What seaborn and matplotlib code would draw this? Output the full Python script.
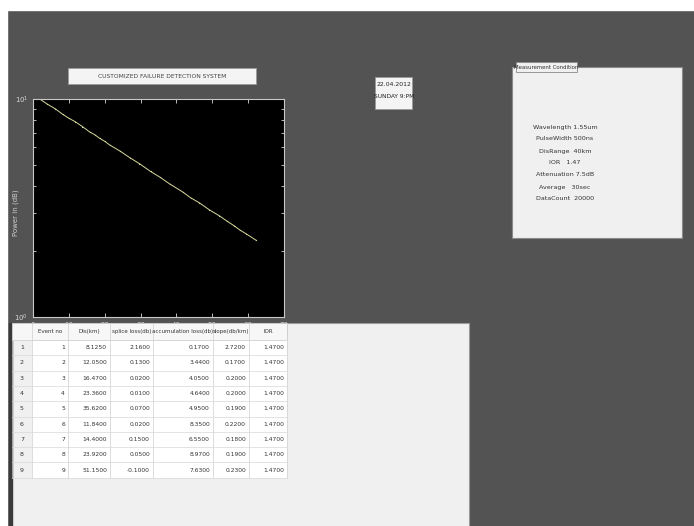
import matplotlib
matplotlib.use("Agg")
import matplotlib.pyplot as plt
from matplotlib.patches import Rectangle
import seaborn as sns
import pandas as pd

# OTDR trace
dist_km = [1.9, 4.0, 6.2, 8.3, 10.0, 11.7, 13.8, 15.8, 17.2, 18.6, 20.0, 21.4,
           24.2, 27.0, 29.7, 32.8, 35.5, 38.1, 41.7, 44.0, 46.4, 49.2, 52.0,
           54.0, 56.1, 57.8, 59.4, 62.2]
power = [10.0, 9.47, 9.02, 8.50, 8.16, 7.88, 7.47, 7.06, 6.86, 6.60, 6.40, 6.15,
         5.78, 5.38, 5.05, 4.65, 4.37, 4.08, 3.75, 3.52, 3.34, 3.10, 2.91,
         2.76, 2.62, 2.50, 2.41, 2.25]

# event table
col_names = ["Event no", "Dis(km)", "splice loss(db)", "accumulation loss(db)",
             "slope(db/km)", "IOR"]
event_no = [1, 2, 3, 4, 5, 6, 7, 8, 9]
dis = [8.1250, 12.0500, 16.4700, 23.3600, 35.6200, 11.8400, 14.4000, 23.9200, 51.1500]
splice = [2.1600, 0.1300, 0.0200, 0.0100, 0.0700, 0.0200, 0.1500, 0.0500, -0.1000]
accum = [0.1700, 3.4400, 4.0500, 4.6400, 4.9500, 8.3500, 6.5500, 8.9700, 7.6300]
slope = [2.7200, 0.1700, 0.2000, 0.2000, 0.1900, 0.2200, 0.1800, 0.1900, 0.2300]
ior = [1.4700] * 9

# measurement panel
meas_lines = ["Wavelength 1.55um", "PulseWidth 500ns", "DisRange  40km", "IOR   1.47",
              "Attenuation 7.5dB", "Average   30sec", "DataCount  20000"]

W, H = 694, 526
GRAY = "#535353"
PANEL = "#f0f0f0"

fig = plt.figure(figsize=(W / 100, H / 100), dpi=100, facecolor=GRAY)
plt.rcParams['font.family'] = ['DejaVu Sans']


def fx(x):
    return x / W


def fy(y):
    return 1 - y / H


# chrome behind the plot
bg = fig.add_axes([0, 0, 1, 1], zorder=0)
bg.set_xlim(0, W)
bg.set_ylim(H, 0)
bg.axis("off")
bg.add_patch(Rectangle((0, 0), W, 10, color="white"))
bg.add_patch(Rectangle((0, 0), 7, H, color="white"))

# title box
bg.add_patch(Rectangle((68, 68), 188, 16, facecolor="#f4f4f4", edgecolor="#9a9a9a", lw=0.6))
bg.text(162, 76, "CUSTOMIZED FAILURE DETECTION SYSTEM", ha="center", va="center",
        fontsize=4.3, color="#444444")

# date box
bg.add_patch(Rectangle((375, 77), 37, 32, facecolor="#f4f4f4", edgecolor="#9a9a9a", lw=0.6))
bg.text(394, 85, "22.04.2012", ha="center", va="center", fontsize=4.4, color="#222222")
bg.text(394, 96, "SUNDAY 9:PM", ha="center", va="center", fontsize=4.2, color="#222222")

# measurement condition panel
bg.add_patch(Rectangle((512, 67), 170, 171, facecolor=PANEL, edgecolor="#8a8a8a", lw=0.8))
bg.add_patch(Rectangle((516, 62), 61, 10, facecolor=PANEL, edgecolor="#8a8a8a", lw=0.6))
bg.text(546.5, 67.5, "Measurement Condition", ha="center", va="center", fontsize=3.9,
        color="#333333")
for i, line in enumerate(meas_lines):
    bg.text(565, 127 + i * 12, line, ha="center", va="center", fontsize=4.6,
            color="#333333")

# OTDR trace
ax = fig.add_axes([fx(33), fy(317), fx(251), 218 / H], zorder=2)
ax.set_facecolor("black")
df = pd.DataFrame({"dist": dist_km, "power": power})
sns.lineplot(data=df, x="dist", y="power", ax=ax, color="#d8d89c", lw=0.7,
             marker=".", markersize=1.8, markeredgewidth=0)
ax.set_yscale("log")
ax.set_ylim(1, 10)
ax.set_xlim(0, 70)
ax.set_xticks(range(0, 71, 10))
ax.set_xlabel("")
ax.set_ylabel("Power in (dB)", color="#cfcfcf", fontsize=5)
ax.yaxis.set_label_coords(-0.055, 0.48)
ax.tick_params(which="both", direction="in", colors="#d8d8d8", labelsize=5,
               top=True, right=True, length=3, width=0.6)
ax.tick_params(which="minor", length=2)
ax.tick_params(axis="y", which="minor", labelleft=False)
for s in ax.spines.values():
    s.set_color("#c8c8c8")
    s.set_linewidth(0.8)

# event table panel, drawn over the plot's x labels
tb = fig.add_axes([0, 0, 1, 1], zorder=3)
tb.set_xlim(0, W)
tb.set_ylim(H, 0)
tb.axis("off")
tb.patch.set_alpha(0)
tb.add_patch(Rectangle((10, 323), 459, 210, facecolor=PANEL, edgecolor="#9a9a9a", lw=0.8))
tb.add_patch(Rectangle((9, 323), 3, 210, color="#3a3a3a"))

col_edges = [32, 68, 110, 153, 213, 249, 287]
row_top, head_h, row_h = 323, 17, 15.3
n_rows = len(event_no)
table_bottom = row_top + head_h + n_rows * row_h

tb.add_patch(Rectangle((col_edges[0], row_top + head_h), col_edges[-1] - col_edges[0],
                       n_rows * row_h, facecolor="white", edgecolor="none"))
tb.add_patch(Rectangle((12, row_top), col_edges[-1] - 12, head_h,
                       facecolor="#f7f7f7", edgecolor="#c8c8c8", lw=0.5))

for x in [12] + col_edges:
    tb.plot([x, x], [row_top, table_bottom], color="#cfcfcf", lw=0.5)
for r in range(n_rows + 1):
    y = row_top + head_h + r * row_h
    tb.plot([12, col_edges[-1]], [y, y], color="#d8d8d8", lw=0.5)

for c, name in enumerate(col_names):
    xc = (col_edges[c] + col_edges[c + 1]) / 2
    tb.text(xc, row_top + head_h / 2, name, ha="center", va="center", fontsize=4,
            color="#333333", clip_on=True)

columns = [event_no, dis, splice, accum, slope, ior]
for r in range(n_rows):
    yc = row_top + head_h + (r + 0.5) * row_h
    tb.text(22, yc, str(r + 1), ha="center", va="center", fontsize=4.5, color="#333333")
    for c, vals in enumerate(columns):
        txt = str(vals[r]) if c == 0 else f"{vals[r]:.4f}"
        tb.text(col_edges[c + 1] - 3, yc, txt, ha="right", va="center", fontsize=4.3,
                color="#333333")

fig.savefig("out.png", dpi=100, facecolor=fig.get_facecolor())
